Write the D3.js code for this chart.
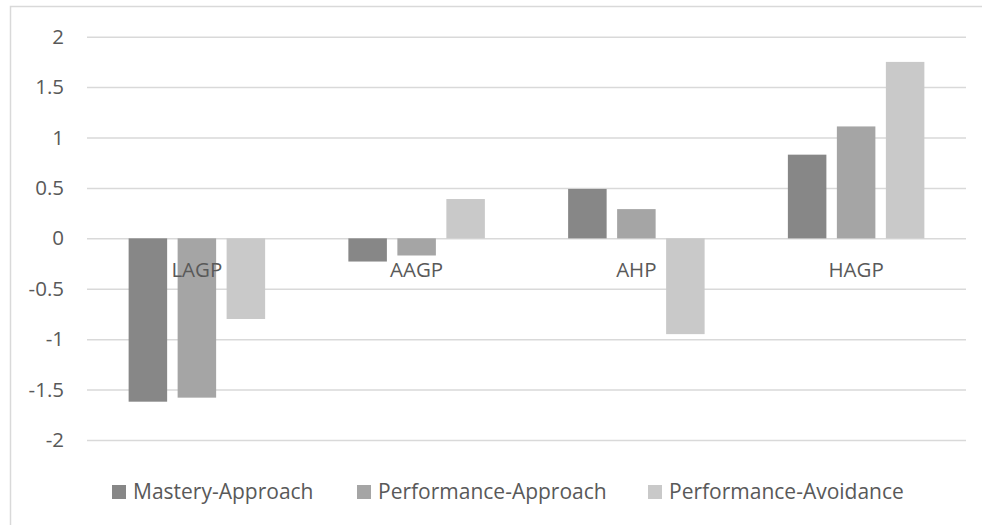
<!DOCTYPE html>
<html>
<head>
<meta charset="utf-8">
<script src="https://cdn.jsdelivr.net/npm/d3@7"></script>
<style>
  html, body { margin: 0; padding: 0; background: #ffffff; }
  svg { display: block; }
  text { font-family: "Open Sans", "Noto Sans", sans-serif; fill: #595959; }
</style>
</head>
<body>
<svg id="chart" width="982" height="525"></svg>
<script>
// Goal-profile groups and the three achievement-goal series
const categories = ["LAGP", "AAGP", "AHP", "HAGP"];
const seriesNames = ["Mastery-Approach", "Performance-Approach", "Performance-Avoidance"];
const masteryApproach = [-1.62, -0.23, 0.49, 0.83];
const performanceApproach = [-1.58, -0.17, 0.29, 1.11];
const performanceAvoidance = [-0.80, 0.39, -0.95, 1.75];
const yTicks = [2, 1.5, 1, 0.5, 0, -0.5, -1, -1.5, -2];

const seriesValues = [masteryApproach, performanceApproach, performanceAvoidance];
const colors = ["#878787", "#a5a5a5", "#c9c9c9"];
const fontSize = 20.5;

const svg = d3.select("#chart");

// outer chart frame
svg.append("rect")
  .attr("x", 10.5).attr("y", 6.5)
  .attr("width", 1000).attr("height", 600)
  .attr("fill", "#ffffff").attr("stroke", "#d9d9d9").attr("stroke-width", 1.5);

const plot = { left: 87, right: 966, top: 36.7, bottom: 440 };

const x0 = d3.scaleBand().domain(categories).range([plot.left, plot.right]).padding(0);
const groupSpan = 136.5;
const x1 = d3.scaleBand().domain(d3.range(seriesNames.length))
  .range([-groupSpan / 2, groupSpan / 2]).paddingInner(0.214).paddingOuter(0);
const y = d3.scaleLinear().domain([-2, 2]).range([plot.bottom, plot.top]);

// gridlines and tick labels
const yAxis = d3.axisLeft(y).tickValues(yTicks).tickFormat(d => String(d))
  .tickSize(-(plot.right - plot.left)).tickPadding(23);
const gy = svg.append("g").attr("transform", `translate(${plot.left},0)`).call(yAxis);
gy.select(".domain").remove();
gy.selectAll(".tick line").attr("stroke", "#d9d9d9").attr("stroke-width", 1.5);
gy.selectAll(".tick text").attr("font-size", fontSize).attr("fill", "#595959")
  .style("font-family", '"Open Sans", "Noto Sans", sans-serif');

// bars
const groups = svg.append("g").selectAll("g")
  .data(categories).join("g")
  .attr("transform", d => `translate(${x0(d) + x0.bandwidth() / 2},0)`);

groups.selectAll("rect")
  .data((c, ci) => seriesValues.map((vals, si) => ({ si, v: vals[ci] })))
  .join("rect")
  .attr("x", d => x1(d.si))
  .attr("width", x1.bandwidth())
  .attr("y", d => y(Math.max(0, d.v)))
  .attr("height", d => Math.abs(y(d.v) - y(0)))
  .attr("fill", d => colors[d.si]);

// category labels sit just under the zero line
svg.append("g").selectAll("text")
  .data(categories).join("text")
  .attr("x", d => x0(d) + x0.bandwidth() / 2)
  .attr("y", y(0) + 39)
  .attr("text-anchor", "middle")
  .attr("font-size", fontSize)
  .text(d => d);

// legend
const legendX = [112, 357, 648];
const legend = svg.append("g").selectAll("g")
  .data(seriesNames).join("g")
  .attr("transform", (d, i) => `translate(${legendX[i]},485)`);
legend.append("rect").attr("width", 14).attr("height", 14).attr("fill", (d, i) => colors[i]);
legend.append("text").attr("x", 21).attr("y", 14).attr("font-size", 21).text(d => d);
</script>
</body>
</html>
